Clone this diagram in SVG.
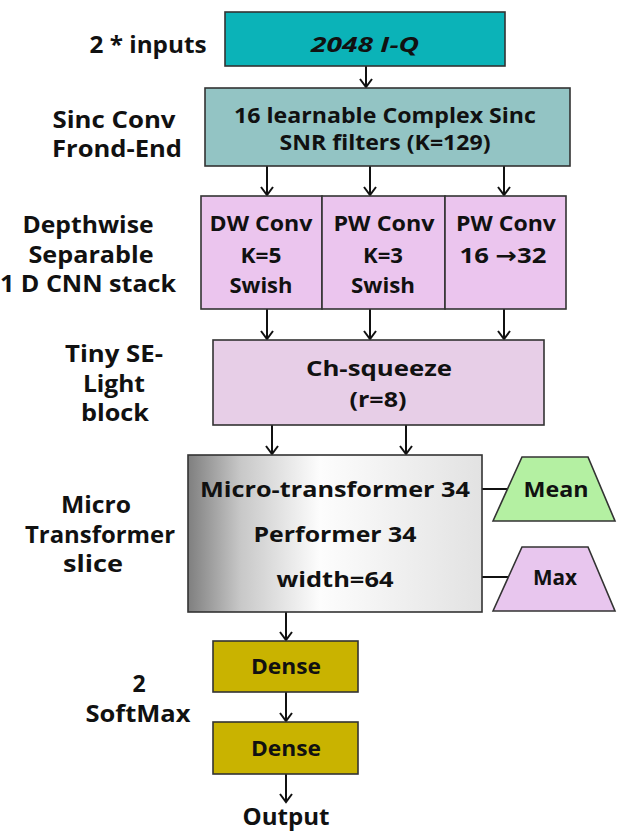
<svg xmlns="http://www.w3.org/2000/svg" width="622" height="835" viewBox="0 0 622 835">
<defs>
<style>
text{font-family:"Open Sans","Noto Sans","DejaVu Sans",sans-serif;font-weight:700;fill:#111;text-anchor:middle}
.lbl{font-size:23px}
.bx{font-size:22px}
.box{stroke:#333;stroke-width:1.6}
.conn{stroke:#111;stroke-width:2;fill:none}
</style>
<marker id="ah" markerWidth="12" markerHeight="14" refX="9" refY="7" orient="auto" markerUnits="userSpaceOnUse" viewBox="0 0 12 14">
<path d="M1,1 L9,7 L1,13" fill="none" stroke="#111" stroke-width="2"/>
</marker>
<linearGradient id="gr" x1="0" y1="0" x2="1" y2="0">
<stop offset="0" stop-color="#7f7f7f"/>
<stop offset="0.18" stop-color="#c8c8c8"/>
<stop offset="0.45" stop-color="#fdfdfd"/>
<stop offset="1" stop-color="#e2e2e2"/>
</linearGradient>
</defs>
<rect width="622" height="835" fill="#fff"/>

<g id="labels">
<text class="lbl" x="148" y="53" textLength="117" lengthAdjust="spacingAndGlyphs">2 * inputs</text>
<text class="lbl" x="114" y="128" textLength="123" lengthAdjust="spacingAndGlyphs">Sinc Conv</text>
<text class="lbl" x="117" y="157" textLength="130" lengthAdjust="spacingAndGlyphs">Frond-End</text>
<text class="lbl" x="88" y="233" textLength="131" lengthAdjust="spacingAndGlyphs">Depthwise</text>
<text class="lbl" x="91" y="263" textLength="125" lengthAdjust="spacingAndGlyphs">Separable</text>
<text class="lbl" x="88" y="292" textLength="176" lengthAdjust="spacingAndGlyphs">1 D CNN stack</text>
<text class="lbl" x="114" y="362" textLength="98" lengthAdjust="spacingAndGlyphs">Tiny SE-</text>
<text class="lbl" x="114" y="392" textLength="62" lengthAdjust="spacingAndGlyphs">Light</text>
<text class="lbl" x="115" y="421" textLength="68" lengthAdjust="spacingAndGlyphs">block</text>
<text class="lbl" x="96" y="513" textLength="70" lengthAdjust="spacingAndGlyphs">Micro</text>
<text class="lbl" x="100" y="543" textLength="150" lengthAdjust="spacingAndGlyphs">Transformer</text>
<text class="lbl" x="93" y="572" textLength="60" lengthAdjust="spacingAndGlyphs">slice</text>
<text class="lbl" x="139" y="692">2</text>
<text class="lbl" x="138" y="722" textLength="105" lengthAdjust="spacingAndGlyphs">SoftMax</text>
<text class="lbl" x="286" y="825" textLength="87" lengthAdjust="spacingAndGlyphs">Output</text>
</g>

<g id="connectors">
<line class="conn" x1="366" y1="66" x2="366" y2="87" marker-end="url(#ah)"/>
<line class="conn" x1="267" y1="166" x2="267" y2="195" marker-end="url(#ah)"/>
<line class="conn" x1="370" y1="166" x2="370" y2="195" marker-end="url(#ah)"/>
<line class="conn" x1="504" y1="166" x2="504" y2="195" marker-end="url(#ah)"/>
<line class="conn" x1="267" y1="309" x2="267" y2="339" marker-end="url(#ah)"/>
<line class="conn" x1="370" y1="309" x2="370" y2="339" marker-end="url(#ah)"/>
<line class="conn" x1="504" y1="309" x2="504" y2="339" marker-end="url(#ah)"/>
<line class="conn" x1="272" y1="425" x2="272" y2="454" marker-end="url(#ah)"/>
<line class="conn" x1="406" y1="425" x2="406" y2="454" marker-end="url(#ah)"/>
<line class="conn" x1="286" y1="612" x2="286" y2="640" marker-end="url(#ah)"/>
<line class="conn" x1="286" y1="692" x2="286" y2="721" marker-end="url(#ah)"/>
<line class="conn" x1="286" y1="774" x2="286" y2="802" marker-end="url(#ah)"/>
<line class="conn" x1="482" y1="489" x2="508" y2="489" stroke-width="2.5"/>
<line class="conn" x1="482" y1="577" x2="508" y2="577" stroke-width="2.5"/>
</g>

<g id="inputs">
<rect class="box" x="225" y="12" width="280" height="54" fill="#0bb3b8"/>
<text class="bx" x="365" y="52" font-style="italic" textLength="108" lengthAdjust="spacingAndGlyphs">2048 I-Q</text>
</g>

<g id="sinc">
<rect class="box" x="205" y="88" width="365" height="78" fill="#93c4c4"/>
<text class="bx" x="385" y="123" textLength="302" lengthAdjust="spacingAndGlyphs">16 learnable Complex Sinc</text>
<text class="bx" x="385" y="150" textLength="211" lengthAdjust="spacingAndGlyphs">SNR filters (K=129)</text>
</g>

<g id="dwconv">
<rect class="box" x="201" y="196" width="121" height="113" fill="#ebc5ee"/>
<text class="bx" x="261" y="231" textLength="103" lengthAdjust="spacingAndGlyphs">DW Conv</text>
<text class="bx" x="261" y="263" textLength="41" lengthAdjust="spacingAndGlyphs">K=5</text>
<text class="bx" x="261" y="293" textLength="63" lengthAdjust="spacingAndGlyphs">Swish</text>
</g>
<g id="pwconv1">
<rect class="box" x="322" y="196" width="123" height="113" fill="#ebc5ee"/>
<text class="bx" x="384" y="231" textLength="101" lengthAdjust="spacingAndGlyphs">PW Conv</text>
<text class="bx" x="383" y="263" textLength="40" lengthAdjust="spacingAndGlyphs">K=3</text>
<text class="bx" x="383" y="293" textLength="64" lengthAdjust="spacingAndGlyphs">Swish</text>
</g>
<g id="pwconv2">
<rect class="box" x="445" y="196" width="121" height="113" fill="#ebc5ee"/>
<text class="bx" x="506" y="231" textLength="100" lengthAdjust="spacingAndGlyphs">PW Conv</text>
<text class="bx" x="503" y="263" textLength="87" lengthAdjust="spacingAndGlyphs">16 →32</text>
</g>

<g id="squeeze">
<rect class="box" x="213" y="340" width="331" height="85" fill="#e7cee7"/>
<text class="bx" x="379" y="376" textLength="146" lengthAdjust="spacingAndGlyphs">Ch-squeeze</text>
<text class="bx" x="378" y="407" textLength="57" lengthAdjust="spacingAndGlyphs">(r=8)</text>
</g>

<g id="transformer">
<rect class="box" x="188" y="455" width="294" height="157" fill="url(#gr)"/>
<text class="bx" x="335" y="497" textLength="270" lengthAdjust="spacingAndGlyphs">Micro-transformer 34</text>
<text class="bx" x="335" y="542" textLength="163" lengthAdjust="spacingAndGlyphs">Performer 34</text>
<text class="bx" x="335" y="587" textLength="117" lengthAdjust="spacingAndGlyphs">width=64</text>
</g>

<g id="mean">
<polygon class="box" points="493,521 522,457 588,457 615,521" fill="#b4f0a2"/>
<text class="bx" x="556" y="497" textLength="65" lengthAdjust="spacingAndGlyphs">Mean</text>
</g>
<g id="max">
<polygon class="box" points="493,611 522,547 588,547 615,611" fill="#e8c6ee"/>
<text class="bx" x="555" y="585" textLength="44" lengthAdjust="spacingAndGlyphs">Max</text>
</g>

<g id="dense1">
<rect class="box" x="213" y="641" width="145" height="51" fill="#c9b300"/>
<text class="bx" x="286" y="674" textLength="70" lengthAdjust="spacingAndGlyphs">Dense</text>
</g>
<g id="dense2">
<rect class="box" x="213" y="722" width="145" height="52" fill="#c9b300"/>
<text class="bx" x="286" y="756" textLength="70" lengthAdjust="spacingAndGlyphs">Dense</text>
</g>
</svg>
